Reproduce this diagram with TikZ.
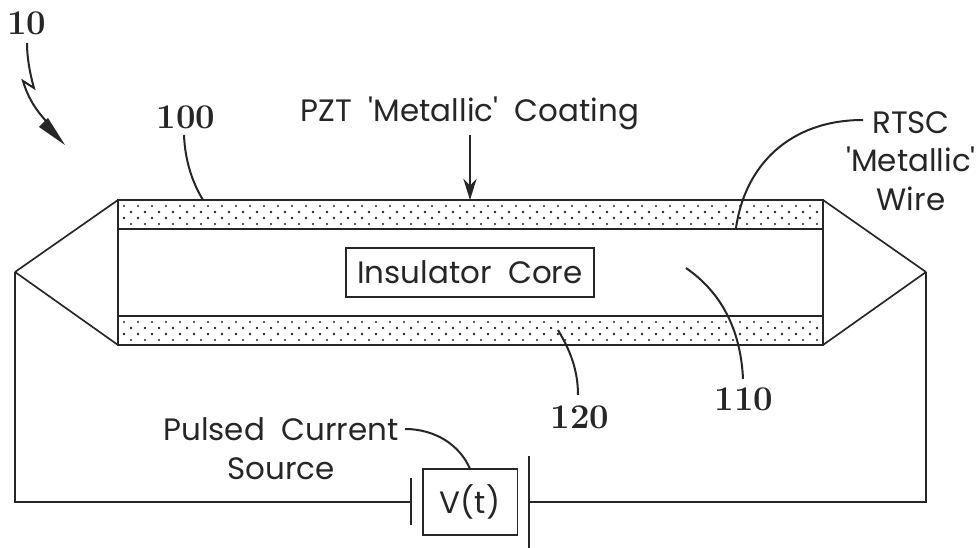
\documentclass[tikz,border=0pt]{standalone}
\usepackage{fontspec}
\newfontfamily\labfont{Poppins}
\usetikzlibrary{arrows.meta}
\tikzset{
  ln/.style={draw=black!85,line width=1.25pt},
  lead/.style={draw=black!85,line width=1.5pt},
  lab/.style={inner sep=0pt,font=\labfont\fontsize{23.2}{29}\selectfont,align=center,text=black!85},
  num/.style={inner sep=0pt,font=\bfseries\fontsize{26}{30}\selectfont,text=black!85},
  boxed/.style={ln,fill=white}
}
\begin{document}
\begin{tikzpicture}[x=0.75pt,y=-0.75pt]
\useasboundingbox (0,0) rectangle (979,548);
\fill[white] (0,0) rectangle (979,548);
% stipple
\foreach \yy in {200,316}{
  \foreach \i in {0,...,49}{
    \fill[black!85] ({124+\i*14},{\yy+6}) circle (0.8pt);
    \fill[black!85] ({131+\i*14},{\yy+12}) circle (1pt);
    \fill[black!85] ({124+\i*14},{\yy+18}) circle (1pt);
    \fill[black!85] ({131+\i*14},{\yy+24}) circle (0.8pt);
  }
}
% body
\coordinate (tl) at (118,200);
\coordinate (tr) at (823,200);
\coordinate (bl) at (118,345);
\coordinate (br) at (823,345);
\coordinate (itl) at (118,229);
\coordinate (itr) at (823,229);
\coordinate (ibl) at (118,316);
\coordinate (ibr) at (823,316);
\coordinate (lt) at (15,272);
\coordinate (rt) at (926,272);
\draw[ln] (tl) -- (tr) -- (br) -- (bl) -- cycle;
\draw[ln] (itl) -- (itr);
\draw[ln] (ibl) -- (ibr);
\draw[ln] (lt) -- (tl);
\draw[ln] (lt) -- (bl);
\draw[ln] (rt) -- (tr);
\draw[ln] (rt) -- (br);
% core
\node[boxed,minimum width=186pt,minimum height=36.75pt,inner sep=0pt,lab] (core) at (470,272.5) {\raisebox{-1.5pt}{Insulator\ \ Core}};
% source
\node[boxed,minimum width=71pt,minimum height=49.5pt,inner sep=0pt,lab] (vt) at (470,502) {V(t)};
\coordinate (pa) at (411,478);
\coordinate (pb) at (411,525);
\coordinate (qa) at (529,456);
\coordinate (qb) at (529,548);
\draw[ln] (pa) -- (pb);
\draw[ln] (qa) -- (qb);
\coordinate (wl) at (411,502);
\coordinate (wr) at (529,502);
\draw[ln] (lt) -- (15,502) -- (wl);
\draw[ln] (rt) -- (926,502) -- (wr);
% labels
\node[lab] (pzt) at (470,113) {PZT\ \ 'Metallic'\ \ Coating};
\node[lab] (rtsc) at (911,161) {RTSC\\'Metallic'\\Wire};
\node[lab] (pulse) at (281,449) {Pulsed\ \ Current\\Source};
\node[num] (n10) at (27,23) {10};
\node[num] (n100) at (186,117) {100};
\node[num] (n110) at (744,399) {110};
\node[num] (n120) at (580,417) {120};
% leaders
\draw[lead,-{Stealth[length=16pt,width=10pt]}] (470,135) -- (470,200);
\draw[lead] (184,135) .. controls (185,160) and (192,182) .. (203,200);
\draw[lead] (863,120) .. controls (790,120) and (745,165) .. (736,228);
\draw[lead] (686,268) .. controls (725,295) and (741,335) .. (743,379);
\draw[lead] (558,330) .. controls (570,350) and (578,370) .. (578,395);
\draw[lead] (405,429) .. controls (435,429) and (460,445) .. (470,469);
% 10 arrow
\coordinate (z0) at (27,43);
\coordinate (z1) at (34,88);
\coordinate (z2) at (23,81);
\coordinate (z3) at (46,121);
\draw[lead] (z0) .. controls (27,58) and (30,74) .. (z1) -- (z2) .. controls (28,98) and (36,110) .. (z3);
\fill[black!85] (65,145) -- (39,127) -- (48,118) -- cycle;
\end{tikzpicture}
\end{document}
